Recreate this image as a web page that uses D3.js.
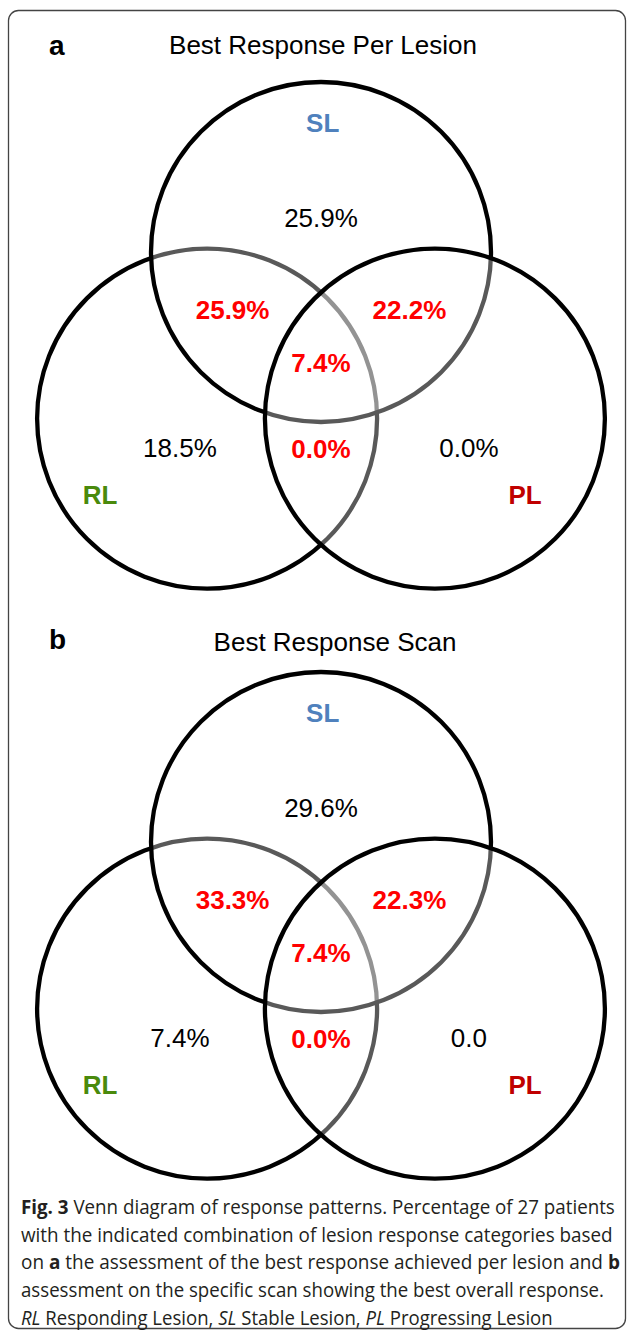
<!DOCTYPE html>
<html>
<head>
<meta charset="utf-8">
<script src="https://cdn.jsdelivr.net/npm/d3@7"></script>
<style>
  body { margin: 0; background: #fff; }
  svg { display: block; }
</style>
</head>
<body>
<div id="chart"></div>
<script>
// panels and their titles
const panelLetters = ['a', 'b'];
const panelTitles = ['Best Response Per Lesion', 'Best Response Scan'];

// the three lesion sets
const setNames = ['RL', 'SL', 'PL'];

// regions of the venn, same order for both panels
const regions = ['SL', 'RL', 'PL', 'RL&SL', 'SL&PL', 'RL&SL&PL', 'RL&PL'];
const valuesA = ['25.9%', '18.5%', '0.0%', '25.9%', '22.2%', '7.4%', '0.0%'];
const valuesB = ['29.6%', '7.4%', '0.0', '33.3%', '22.3%', '7.4%', '0.0%'];
const panelValues = [valuesA, valuesB];

// caption text, pieces are [text, style]
const captionLines = [
  [['Fig. 3', 'b'], [' Venn diagram of response patterns. Percentage of 27 patients', '']],
  [['with the indicated combination of lesion response categories based', '']],
  [['on ', ''], ['a', 'b'], [' the assessment of the best response achieved per lesion and ', ''], ['b', 'b']],
  [['assessment on the specific scan showing the best overall response.', '']],
  [['RL', 'i'], [' Responding Lesion, ', ''], ['SL', 'i'], [' Stable Lesion, ', ''], ['PL', 'i'], [' Progressing Lesion', '']]
];
// width each caption line takes in the figure (justified text)
const captionWidths = [594, 592, 599, 583, 532];

const W = 630, H = 1330;
const svg = d3.select('#chart').append('svg')
  .attr('width', W).attr('height', H);

// outer frame
svg.append('rect')
  .attr('x', 8.5).attr('y', 10.5)
  .attr('width', 617).attr('height', 1318)
  .attr('rx', 10)
  .attr('fill', 'none')
  .attr('stroke', '#444')
  .attr('stroke-width', 1.3);

// layout in circle-radius units (SL centre is 0,0)
const circlePos = { RL: [-0.67, 0.98], SL: [0, 0], PL: [0.67, 0.98] };
const labelPos = {
  'SL': [0, -0.2], 'RL': [-0.83, 1.15], 'PL': [0.87, 1.15],
  'RL&SL': [-0.52, 0.34], 'SL&PL': [0.52, 0.34],
  'RL&SL&PL': [0, 0.65], 'RL&PL': [0, 1.16]
};
const namePos = { SL: [0.01, -0.76], RL: [-1.3, 1.43], PL: [1.2, 1.43] };
const nameColor = { SL: '#4f81bd', RL: '#4a8a0c', PL: '#c00000' };

const panelTop = [0, 590];
const titleX = [323, 335];

const font = '"Liberation Sans", Arial, sans-serif';

panelLetters.forEach((letter, i) => {
  const g = svg.append('g').attr('transform', `translate(0,${panelTop[i]})`);

  const x = d3.scaleLinear().domain([-1, 1]).range([151, 491]);
  const y = d3.scaleLinear().domain([0, 1]).range([252, 422]);
  const r = x(1) - x(0);

  // letter + title
  g.append('text')
    .attr('x', 49).attr('y', 45 + i * 4)
    .attr('dominant-baseline', 'central')
    .style('font-family', font).style('font-weight', 'bold').style('font-size', '28px')
    .text(letter);
  g.append('text')
    .attr('x', titleX[i]).attr('y', 45 + i * 7)
    .attr('text-anchor', 'middle').attr('dominant-baseline', 'central')
    .style('font-family', font).style('font-size', '26px')
    .text(panelTitles[i]);

  // circles, semi transparent white fill so the lower outlines turn grey
  g.selectAll('circle')
    .data(setNames)
    .enter()
    .append('circle')
      .attr('cx', d => x(circlePos[d][0]))
      .attr('cy', d => y(circlePos[d][1]))
      .attr('r', r)
      .attr('fill', '#fff')
      .attr('fill-opacity', 0.35)
      .attr('stroke', '#000')
      .attr('stroke-width', 4.3);

  // region values
  const vals = panelValues[i];
  g.selectAll('.val')
    .data(regions)
    .enter()
    .append('text')
      .attr('class', 'val')
      .attr('x', d => x(labelPos[d][0]))
      .attr('y', d => y(labelPos[d][1]))
      .attr('text-anchor', 'middle').attr('dominant-baseline', 'central')
      .style('font-family', font).style('font-size', '26px')
      .style('font-weight', d => d.includes('&') ? 'bold' : 'normal')
      .attr('fill', d => d.includes('&') ? '#ff0000' : '#000')
      .text((d, j) => vals[j]);

  // set names
  g.selectAll('.name')
    .data(setNames)
    .enter()
    .append('text')
      .attr('class', 'name')
      .attr('x', d => x(namePos[d][0]))
      .attr('y', d => y(namePos[d][1]))
      .attr('text-anchor', 'middle').attr('dominant-baseline', 'central')
      .style('font-family', font).style('font-size', '26px').style('font-weight', 'bold')
      .attr('fill', d => nameColor[d])
      .text(d => d);
});

// caption: squeeze each line horizontally so it spans the same width as the figure
const cap = svg.append('g');
captionLines.forEach((line, k) => {
  const t = cap.append('text')
    .attr('x', 0).attr('y', 0)
    .style('font-family', '"Open Sans", sans-serif')
    .style('font-size', '19.5px')
    .attr('fill', '#231f20');
  line.forEach(p => {
    t.append('tspan')
      .style('font-weight', p[1] == 'b' ? 'bold' : 'normal')
      .style('font-style', p[1] == 'i' ? 'italic' : 'normal')
      .text(p[0]);
  });
  const natural = t.node().getComputedTextLength();
  const sx = captionWidths[k] / natural;
  t.attr('transform', `translate(21,${1214 + k * 27.7}) scale(${sx},1)`);
});
</script>
</body>
</html>
